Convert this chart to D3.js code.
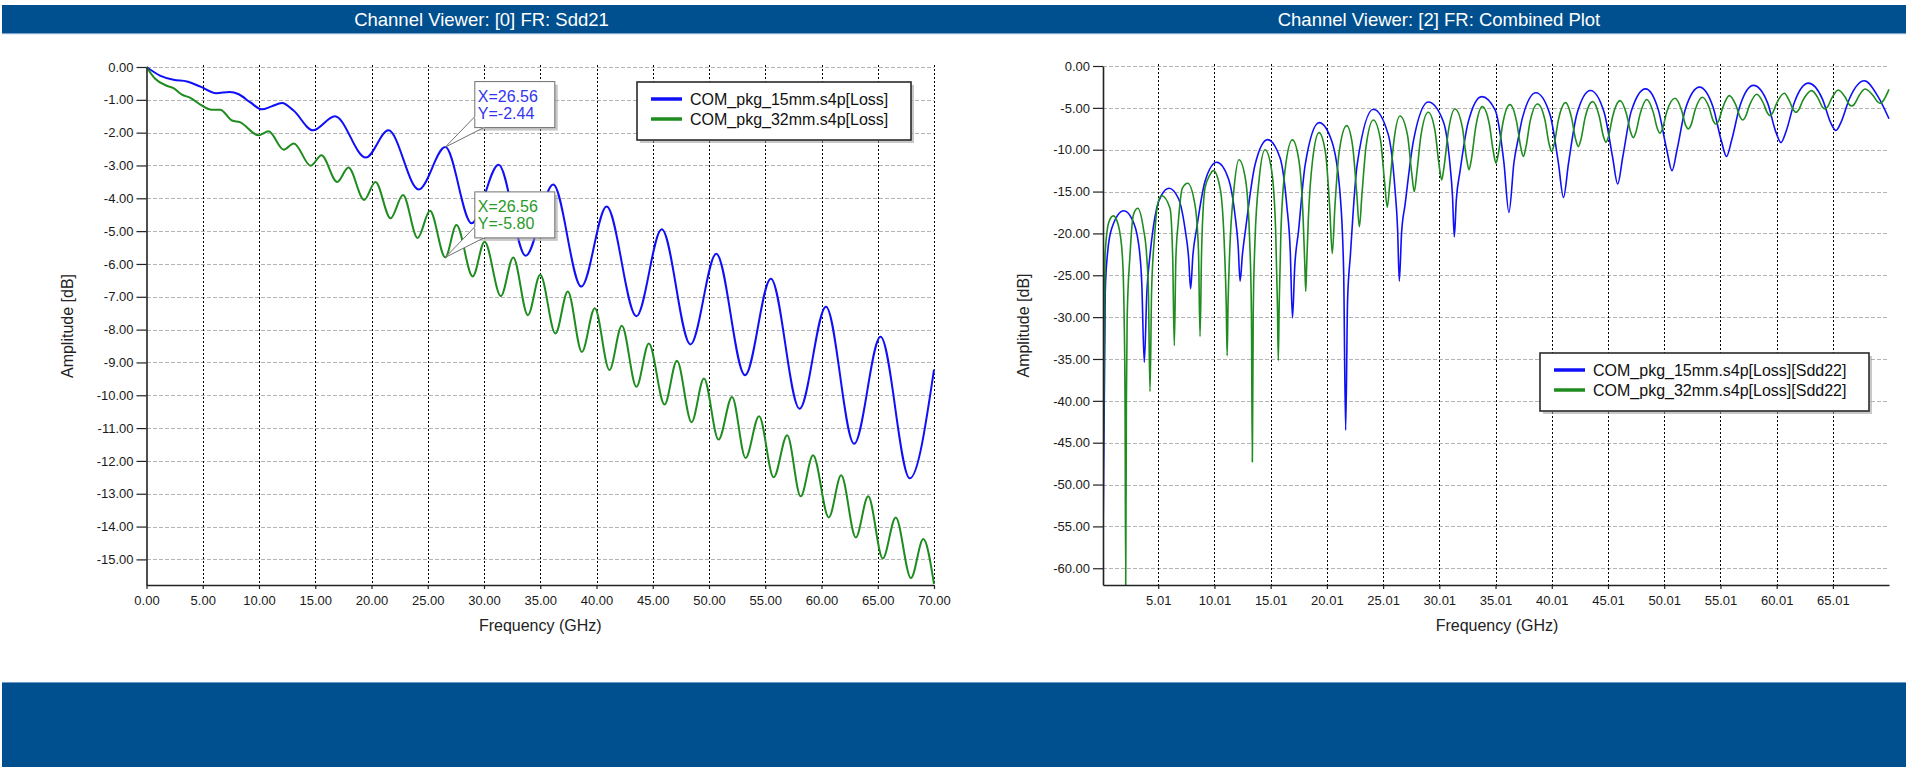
<!DOCTYPE html>
<html><head><meta charset="utf-8">
<script src="https://cdn.jsdelivr.net/npm/d3@7"></script>
<style>
body{margin:0;background:#fff}
svg{display:block}
text{font-family:"Liberation Sans",Arial,sans-serif}
</style>
</head><body>
<svg id="c" width="1908" height="767"></svg>
<script>
// ---------------- DATA ----------------
const titles = ["Channel Viewer: [0] FR: Sdd21", "Channel Viewer: [2] FR: Combined Plot"];
const xTitle = "Frequency (GHz)";
const yTitle = "Amplitude [dB]";

const sdd21Names = ["COM_pkg_15mm.s4p[Loss]", "COM_pkg_32mm.s4p[Loss]"];
const sdd22Names = ["COM_pkg_15mm.s4p[Loss][Sdd22]", "COM_pkg_32mm.s4p[Loss][Sdd22]"];

const leftXTicks = [0,5,10,15,20,25,30,35,40,45,50,55,60,65,70];
const leftYTicks = [0,-1,-2,-3,-4,-5,-6,-7,-8,-9,-10,-11,-12,-13,-14,-15];
const rightXTicks = [5.01,10.01,15.01,20.01,25.01,30.01,35.01,40.01,45.01,50.01,55.01,60.01,65.01];
const rightYTicks = [0,-5,-10,-15,-20,-25,-30,-35,-40,-45,-50,-55,-60];

// Sdd21, 15 mm package  [GHz, dB]
const sdd21_15mm = [[0,0],[1.2,-0.26],[2.4,-0.39],[3.6,-0.44],[4.8,-0.60],[6.2,-0.80],[7.4,-0.76],[8.2,-0.83],[9.2,-1.07],[10.25,-1.29],[11.12,-1.20],[12.05,-1.10],[13.05,-1.32],[14.8,-1.93],[16.75,-1.50],[19.5,-2.76],[21.5,-1.93],[24.2,-3.73],[26.56,-2.44],[28.9,-4.76],[31.3,-2.98],[33.7,-5.75],[36.15,-3.58],[38.65,-6.69],[40.9,-4.25],[43.55,-7.59],[45.8,-4.94],[48.35,-8.45],[50.65,-5.69],[53.2,-9.39],[55.5,-6.45],[58.05,-10.41],[60.4,-7.30],[62.9,-11.48],[65.25,-8.22],[67.85,-12.53],[70,-9.22]];

// Sdd21, 32 mm package
const sdd21_32mm = [[0,0],[0.77,-0.36],[1.8,-0.57],[2.4,-0.64],[3.15,-0.84],[3.9,-0.94],[4.9,-1.17],[5.8,-1.30],[6.55,-1.30],[7.6,-1.63],[8.3,-1.68],[9.95,-2.08],[10.85,-1.96],[12.2,-2.52],[13.1,-2.33],[14.6,-3.01],[15.55,-2.69],[16.95,-3.50],[17.95,-3.06],[19.35,-4.05],[20.35,-3.50],[21.7,-4.61],[22.8,-3.90],[24.1,-5.21],[25.2,-4.38],[26.56,-5.80],[27.55,-4.81],[29.0,-6.38],[30.05,-5.32],[31.5,-6.98],[32.6,-5.80],[33.9,-7.56],[35.0,-6.33],[36.35,-8.12],[37.45,-6.84],[38.7,-8.68],[39.85,-7.35],[41.15,-9.23],[42.25,-7.88],[43.55,-9.74],[44.65,-8.42],[46.05,-10.28],[47.15,-8.95],[48.45,-10.82],[49.55,-9.49],[50.85,-11.35],[52.05,-10.05],[53.25,-11.91],[54.45,-10.64],[55.75,-12.50],[56.95,-11.22],[58.15,-13.08],[59.25,-11.83],[60.65,-13.72],[61.75,-12.44],[63.05,-14.33],[64.15,-13.08],[65.45,-14.97],[66.6,-13.72],[67.95,-15.57],[69.05,-14.38],[70,-15.75]];

// Sdd22, 15 mm package
const sdd22_15mm = [[0.1,-57],[0.3,-27],[0.5,-22.4],[0.9,-19.3],[1.95,-17.3],[2.65,-18.2],[3.24,-21.0],[3.55,-26.0],[3.77,-35.4],[4.0,-27.0],[4.28,-22.6],[4.87,-17.0],[5.32,-15.4],[5.97,-14.6],[6.8,-15.8],[7.39,-19.4],[7.72,-23.0],[7.89,-26.6],[8.1,-22.5],[8.43,-19.4],[9.17,-13.8],[10.21,-11.5],[11.24,-13.4],[11.84,-17.8],[12.12,-21.5],[12.29,-25.7],[12.5,-22.5],[12.79,-19.4],[13.62,-11.8],[14.74,-8.8],[15.85,-11.0],[16.44,-16.6],[16.75,-22.0],[16.95,-30.1],[17.15,-24.0],[17.48,-19.8],[18.08,-11.8],[19.32,-6.77],[20.45,-9.0],[21.19,-15.4],[21.5,-24.5],[21.68,-43.5],[21.85,-28.0],[22.1,-22.6],[22.7,-11.8],[24.14,-5.17],[25.47,-8.2],[26.06,-14.6],[26.3,-19.5],[26.45,-25.7],[26.65,-20.0],[26.96,-16.6],[27.7,-9.0],[29.03,-4.3],[30.37,-6.65],[30.96,-11.8],[31.18,-15.5],[31.34,-20.4],[31.52,-16.0],[31.85,-12.6],[32.59,-6.65],[33.78,-3.66],[34.97,-5.25],[35.75,-11.5],[36.2,-17.5],[36.65,-11.5],[37.04,-8.6],[37.4,-6.2],[38.6,-3.2],[39.85,-5.8],[40.6,-11.6],[41.05,-15.7],[41.5,-11.6],[42.25,-5.7],[43.45,-2.93],[44.67,-5.55],[45.42,-10.9],[45.87,-14.1],[46.32,-10.9],[47.07,-5.45],[48.35,-2.73],[49.5,-5.3],[50.25,-10.1],[50.7,-12.5],[51.15,-10.0],[51.9,-5.1],[53.15,-2.52],[54.35,-4.9],[55.1,-9.0],[55.55,-10.8],[56.0,-8.9],[56.75,-4.75],[57.95,-2.32],[59.2,-4.4],[59.93,-7.85],[60.39,-9.15],[60.85,-7.8],[61.6,-4.3],[62.83,-2.05],[64.08,-3.95],[64.82,-6.8],[65.28,-7.7],[65.74,-6.7],[66.5,-3.85],[67.8,-1.77],[69.0,-3.6],[70.0,-6.3]];

// Sdd22, 32 mm package
const sdd22_32mm = [[0.1,-50],[0.28,-22.6],[0.63,-18.6],[1.02,-17.9],[1.46,-19.0],[1.82,-22.6],[1.98,-30],[2.06,-40],[2.12,-62],[2.18,-40],[2.25,-30],[2.5,-22.6],[2.8,-17.8],[3.18,-17.0],[3.69,-19.4],[3.98,-22.6],[4.14,-27],[4.28,-38.9],[4.42,-27],[4.67,-20.6],[5.02,-16.2],[5.32,-15.5],[6.06,-17.0],[6.3,-23],[6.44,-33.4],[6.58,-23],[6.8,-18.6],[7.16,-14.6],[7.63,-14.0],[8.28,-16.6],[8.59,-22],[8.73,-32.3],[8.87,-22],[9.17,-14.6],[9.61,-13.0],[9.91,-12.5],[10.54,-14.8],[10.91,-22.1],[11.06,-28.5],[11.14,-34.6],[11.22,-28.5],[11.37,-22.1],[11.74,-14.8],[12.19,-11.2],[12.78,-13.6],[13.15,-21.1],[13.3,-29.6],[13.38,-47.3],[13.46,-29.6],[13.61,-21.1],[13.98,-13.6],[14.51,-10.0],[15.09,-12.4],[15.46,-19.9],[15.61,-28.4],[15.69,-35.2],[15.77,-28.4],[15.92,-19.9],[16.29,-12.4],[16.94,-8.83],[17.53,-11.35],[17.9,-18.3],[18.05,-23.9],[18.13,-26.9],[18.21,-23.9],[18.36,-18.3],[18.73,-11.35],[19.31,-7.96],[19.89,-10.4],[20.26,-16.9],[20.49,-22.4],[20.72,-16.9],[21.09,-10.4],[21.77,-7.12],[22.3,-9.56],[22.67,-15.3],[22.9,-19.2],[23.13,-15.3],[23.5,-9.56],[24.14,-6.45],[24.78,-8.85],[25.15,-14.0],[25.38,-16.9],[25.61,-14.0],[25.98,-8.85],[26.51,-5.97],[27.18,-8.25],[27.55,-12.75],[27.78,-15.0],[28.01,-12.75],[28.38,-8.25],[29.03,-5.53],[29.62,-7.73],[29.99,-11.83],[30.22,-13.6],[30.45,-11.83],[30.82,-7.73],[31.4,-5.13],[32.05,-7.27],[32.42,-10.97],[32.65,-12.4],[32.88,-10.97],[33.25,-7.27],[33.83,-4.85],[34.45,-6.9],[34.82,-10.3],[35.05,-11.6],[35.28,-10.3],[35.65,-6.9],[36.29,-4.62],[36.88,-6.65],[37.25,-9.7],[37.48,-10.8],[37.71,-9.7],[38.08,-6.65],[38.75,-4.54],[39.4,-6.44],[39.77,-9.3],[40.0,-10.2],[40.23,-9.3],[40.6,-6.44],[41.25,-4.38],[41.77,-6.2],[42.14,-8.8],[42.37,-9.63],[42.6,-8.8],[42.97,-6.2],[43.65,-4.26],[44.23,-6.0],[44.6,-8.4],[44.83,-9.1],[45.06,-8.4],[45.43,-6.0],[46.08,-4.14],[46.66,-5.77],[47.03,-7.92],[47.26,-8.56],[47.49,-7.92],[47.86,-5.77],[48.45,-4.0],[49.03,-5.51],[49.4,-7.48],[49.63,-8.04],[49.86,-7.48],[50.23,-5.51],[50.97,-3.86],[51.55,-5.28],[51.92,-7.1],[52.15,-7.52],[52.38,-7.1],[52.75,-5.28],[53.4,-3.74],[54.01,-4.99],[54.38,-6.59],[54.61,-6.96],[54.84,-6.59],[55.21,-4.99],[55.8,-3.54],[56.39,-4.71],[56.76,-6.1],[56.99,-6.45],[57.22,-6.1],[57.59,-4.71],[58.23,-3.38],[58.82,-4.42],[59.19,-5.62],[59.42,-5.93],[59.65,-5.62],[60.02,-4.42],[60.69,-3.26],[61.13,-4.15],[61.5,-5.25],[61.73,-5.53],[61.96,-5.25],[62.33,-4.15],[63.12,-2.94],[63.7,-3.87],[64.07,-4.9],[64.3,-5.13],[64.53,-4.9],[64.9,-3.87],[65.49,-2.86],[66.08,-3.68],[66.45,-4.58],[66.68,-4.77],[66.91,-4.58],[67.28,-3.68],[67.86,-2.75],[68.6,-3.55],[68.97,-4.25],[69.2,-4.45],[69.43,-4.25],[70.0,-2.8]];

// marker annotations on the Sdd21 plot
const markerX = [26.56, 26.56];
const markerY = [-2.44, -5.80];

// ---------------- DRAW ----------------
const COLORS = ["#1010f8", "#1f8c1f"];
const TEXTCOL = ["#3434f0", "#2a9a2a"];
const svg = d3.select("#c");
const fmt = v => v.toFixed(2);

// header / footer bars
svg.append("rect").attr("x",2).attr("y",5).attr("width",1904).attr("height",28).attr("fill","#00508f");
svg.append("rect").attr("x",2).attr("y",33).attr("width",1904).attr("height",1.2).attr("fill","#7ea4cc");
svg.append("rect").attr("x",2).attr("y",682).attr("width",1904).attr("height",85).attr("fill","#00508f");
svg.append("rect").attr("x",2).attr("y",682).attr("width",1904).attr("height",1).attr("fill","#6f98c6");
[[481.5,titles[0]],[1439,titles[1]]].forEach(([cx,t])=>{
  svg.append("text").attr("x",cx).attr("y",26).attr("text-anchor","middle")
    .attr("fill","#fff").style("font-size","18.5px").text(t);
});

function panel(o){
  const x = d3.scaleLinear().domain(o.xDom).range([o.left,o.right]);
  const y = d3.scaleLinear().domain(o.yDom).range([o.bottom,o.top]);
  const g = svg.append("g");
  const cid = "clip"+o.key;
  svg.append("clipPath").attr("id",cid).append("rect")
    .attr("x",o.left).attr("y",o.top-3).attr("width",o.right-o.left+1).attr("height",o.bottom-o.top+3);

  // horizontal grid (dashed gray)
  g.append("g").selectAll("line").data(o.yTicks).join("line")
    .attr("x1",o.left).attr("x2",o.right).attr("y1",d=>Math.round(y(d))+0.5).attr("y2",d=>Math.round(y(d))+0.5)
    .attr("stroke","#b4b4b4").attr("stroke-width",1).attr("stroke-dasharray","4,2")
    .attr("shape-rendering","crispEdges");
  // vertical grid (dotted black)
  g.append("g").selectAll("line").data(o.xTicks.filter(t=>x(t)-o.left>2)).join("line")
    .attr("x1",d=>Math.round(x(d))+0.5).attr("x2",d=>Math.round(x(d))+0.5)
    .attr("y1",o.top-2).attr("y2",o.bottom)
    .attr("stroke","#000").attr("stroke-width",1).attr("stroke-dasharray","2,2")
    .attr("shape-rendering","crispEdges");

  // series
  const line = d3.line().x(d=>x(d[0])).y(d=>y(d[1])).curve(d3.curveMonotoneX);
  o.series.forEach((s,i)=>{
    g.append("path").datum(s).attr("d",line).attr("fill","none")
      .attr("stroke",COLORS[i]).attr("stroke-width",o.lw).attr("stroke-linejoin","round")
      .attr("clip-path",`url(#${cid})`);
  });

  // axes
  const ax = g.append("g").attr("transform",`translate(0,${o.bottom})`)
    .call(d3.axisBottom(x).tickValues(o.xTicks).tickFormat(fmt).tickSizeInner(4).tickSizeOuter(0).tickPadding(7));
  const ay = g.append("g").attr("transform",`translate(${o.left},0)`)
    .call(d3.axisLeft(y).tickValues(o.yTicks).tickFormat(fmt).tickSizeInner(10).tickSizeOuter(0).tickPadding(3));
  [ax,ay].forEach(a=>{
    a.select(".domain").attr("stroke","#222").attr("stroke-width",1.6);
    a.selectAll(".tick line").attr("stroke","#222").attr("stroke-width",1.2);
    a.selectAll(".tick text").attr("fill","#1a1a1a").style("font-size","13px").attr("font-family",null);
  });

  // axis titles
  g.append("text").attr("x",(o.left+o.right)/2 + o.xtOff).attr("y",631).attr("text-anchor","middle")
    .attr("fill","#222").style("font-size","16px").text(xTitle);
  g.append("text").attr("transform",`translate(${o.ytX},${(o.top+o.bottom)/2}) rotate(-90)`)
    .attr("text-anchor","middle").attr("fill","#222").style("font-size","16px").text(yTitle);

  // legend
  const L = o.legend;
  const lg = g.append("g").attr("transform",`translate(${L.x},${L.y})`);
  lg.append("rect").attr("x",3).attr("y",3).attr("width",L.w).attr("height",L.h).attr("fill","#9a9a9a").attr("opacity",0.55);
  lg.append("rect").attr("x",0).attr("y",0).attr("width",L.w).attr("height",L.h)
    .attr("fill","#fff").attr("stroke","#2a2a2a").attr("stroke-width",1.6);
  o.names.forEach((n,i)=>{
    const cy = 17 + i*20;
    lg.append("line").attr("x1",14).attr("x2",45).attr("y1",cy).attr("y2",cy)
      .attr("stroke",COLORS[i]).attr("stroke-width",3.5);
    lg.append("text").attr("x",53).attr("y",cy+5.5).attr("fill","#111").style("font-size","16px").text(n);
  });
  return {x,y,g};
}

const P1 = panel({key:"a", xDom:[0,70], yDom:[-15.78,0], left:146.5, right:934, top:67, bottom:585,
  xTicks:leftXTicks, yTicks:leftYTicks, series:[sdd21_15mm, sdd21_32mm], lw:2,
  names:sdd21Names, legend:{x:637,y:82,w:274,h:58}, ytX:73, xtOff:0});

const P2 = panel({key:"b", xDom:[0.1,70.0], yDom:[-62,0], left:1103, right:1889, top:66, bottom:585,
  xTicks:rightXTicks, yTicks:rightYTicks, series:[sdd22_15mm, sdd22_32mm], lw:1.6,
  names:sdd22Names, legend:{x:1540,y:353,w:329,h:58}, ytX:1029, xtOff:1});

// marker callouts
markerX.forEach((mx,i)=>{
  const px = P1.x(mx), py = P1.y(markerY[i]);
  const bx = px+29.5, by = py-65.5, bw = 80, bh = 46;
  const ag = P1.g.append("g");
  ag.append("rect").attr("x",bx+3).attr("y",by+3).attr("width",bw).attr("height",bh).attr("fill","#9a9a9a").attr("opacity",0.55);
  ag.append("path").attr("d",`M${px},${py}L${bx},${by+35}L${bx+9},${by+bh}Z`)
    .attr("fill","#fff").attr("stroke","#707070").attr("stroke-width",1);
  ag.append("rect").attr("x",bx).attr("y",by).attr("width",bw).attr("height",bh)
    .attr("fill","#fff").attr("stroke","#707070").attr("stroke-width",1);
  ag.append("path").attr("d",`M${bx+0.5},${by+35}L${bx+9},${by+bh-0.5}`).attr("stroke","#fff").attr("stroke-width",2);
  ag.append("text").attr("x",bx+3).attr("y",by+20).attr("fill",TEXTCOL[i]).style("font-size","16px").text("X="+fmt(mx));
  ag.append("text").attr("x",bx+3).attr("y",by+37).attr("fill",TEXTCOL[i]).style("font-size","16px").text("Y="+fmt(markerY[i]));
});
</script>
</body></html>
